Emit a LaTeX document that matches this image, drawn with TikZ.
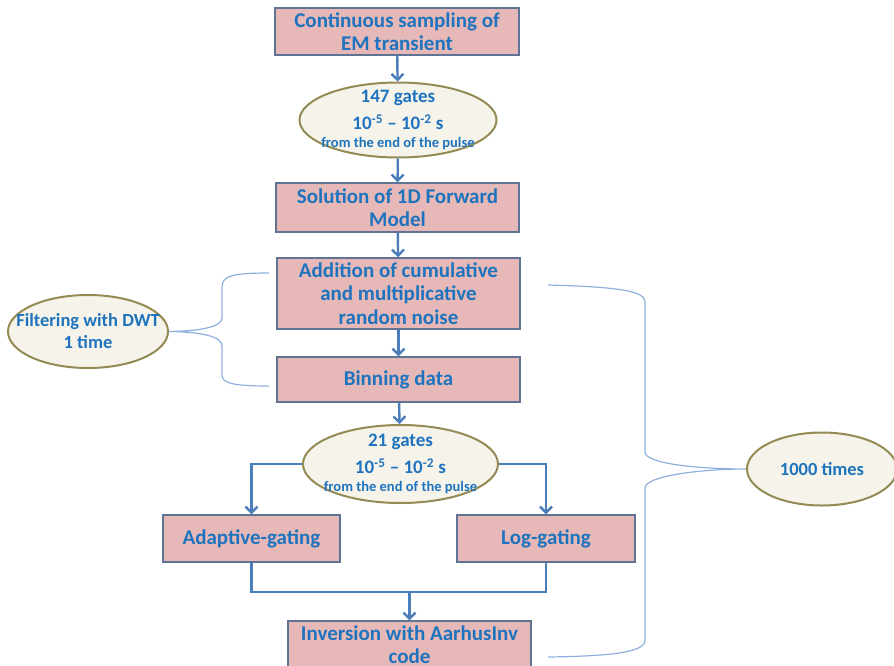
\documentclass[tikz,border=0pt]{standalone}
\usepackage{fontspec}
\setmainfont{Carlito}
\usepackage{tikz}
\usetikzlibrary{shapes.geometric,arrows.meta}
\definecolor{boxpink}{HTML}{E6B9B8}
\definecolor{boxedge}{HTML}{5F7394}
\definecolor{txtblue}{HTML}{1E73BE}
\definecolor{ovalfill}{HTML}{F6F4EA}
\definecolor{ovaledge}{HTML}{948A54}
\definecolor{arrowblue}{HTML}{4A7EBB}
\definecolor{braceblue}{HTML}{8DB0DE}

\begin{document}
\begin{tikzpicture}[x=1pt,y=-1pt,
  box/.style={draw=boxedge,line width=1.5pt,fill=boxpink,align=center,text=txtblue,
    font=\bfseries\fontsize{21}{23.5}\selectfont,inner sep=0pt,minimum width=243pt},
  oval/.style={ellipse,draw=ovaledge,line width=2pt,fill=ovalfill,inner sep=0pt},
  ovaltext/.style={align=center,text=txtblue,inner sep=0pt,
    font=\bfseries\fontsize{18.5}{22}\selectfont},
  gatetext/.style={ovaltext,font=\bfseries\fontsize{19}{18}\selectfont},
  conn/.style={draw=arrowblue,line width=2.4pt},
  flow/.style={conn,-{Straight Barb[length=6pt,width=12pt]}},
  brace/.style={draw=braceblue,line width=1.2pt}]
  \useasboundingbox (0,0) rectangle (894,665);
  \node[box,minimum width=244pt,minimum height=47pt] (samp) at (397,31.5) {Continuous sampling of\\EM transient};
  \node[oval,minimum width=197pt,minimum height=75pt,
    label={[gatetext]center:{147 gates\\[8pt]10\textsuperscript{-5} -- 10\textsuperscript{-2} s\\{\fontsize{14.5}{18}\selectfont from the end of the pulse}}}] (g147) at (398,120) {};
  \node[box,minimum height=49pt] (fwd) at (397.5,207.5) {Solution of 1D Forward\\Model};
  \node[box,minimum height=71pt] (noise) at (398.5,293.5) {Addition of cumulative\\and multiplicative\\random noise};
  \node[box,minimum height=45pt] (bin) at (398.5,379.5) {Binning data};
  \node[oval,minimum width=195pt,minimum height=78pt,
    label={[gatetext]center:{21 gates\\[8pt]10\textsuperscript{-5} -- 10\textsuperscript{-2} s\\{\fontsize{14.5}{18}\selectfont from the end of the pulse}}}] (g21) at (400.5,464) {};
  \node[box,minimum width=177pt,minimum height=47pt] (adapt) at (251.5,538.5) {Adaptive-gating};
  \node[box,minimum width=178pt,minimum height=47pt] (loggate) at (546,538.5) {Log-gating};
  \node[box,minimum height=47pt] (inv) at (409.5,644.5) {Inversion with AarhusInv\\code};
  \node[oval,minimum width=160pt,minimum height=73pt,
    label={[ovaltext]center:{Filtering with DWT\\1 time}}] (dwt) at (88,331.5) {};
  \node[oval,minimum width=150pt,minimum height=73pt,
    label={[ovaltext]center:{1000 times}}] (times) at (822,469) {};
  \coordinate (join) at (409.5,592);
  \coordinate (lt) at (269,273);
  \coordinate (lb) at (269,386);
  \coordinate (rt) at (548,285);
  \coordinate (rb) at (548,657);

  \draw[flow] (samp) -- (g147);
  \draw[flow] (g147) -- (fwd);
  \draw[flow] (fwd) -- (noise);
  \draw[flow] (noise) -- (bin);
  \draw[flow] (bin) -- (g21);
  \draw[flow] (g21.west) -| (adapt);
  \draw[flow] (g21.east) -| (loggate);
  \draw[conn] (adapt.south) |- (join) -| (loggate.south);
  \draw[flow] (join) -- (inv);

  \draw[brace] (lt) .. controls (232,273) and (222,276) .. (222,287) -- (222,318)
    .. controls (222,327) and (200,331) .. (dwt.east)
    .. controls (200,332) and (222,336) .. (222,346) -- (222,375)
    .. controls (222,383) and (232,386) .. (lb);
  \draw[brace] (rt) .. controls (625,287) and (645,292) .. (645,302) -- (645,452)
    .. controls (645,464) and (700,469) .. (times.west)
    .. controls (700,469) and (645,476) .. (645,488) -- (645,640)
    .. controls (645,650) and (625,656) .. (rb);
\end{tikzpicture}
\end{document}
